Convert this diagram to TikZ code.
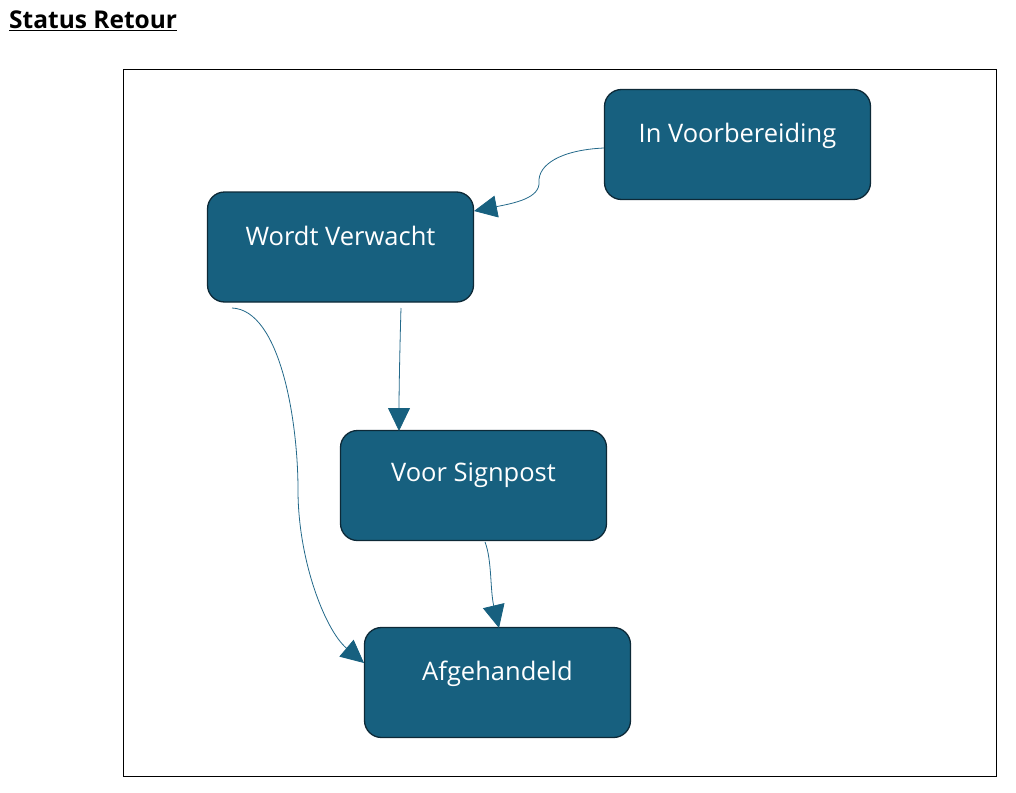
\documentclass[tikz,border=0pt]{standalone}
\usepackage{fontspec}
\setmainfont{Open Sans}
\usetikzlibrary{arrows.meta}
\definecolor{boxfill}{HTML}{17607F}
\definecolor{boxline}{HTML}{0D2937}
\definecolor{arrowcol}{HTML}{23698A}
\tikzset{
  statebox/.style={draw=boxline, line width=1.3pt, fill=boxfill, rounded corners=17pt,
    minimum width=266pt, minimum height=110pt, inner sep=0pt},
  statetext/.style={text=white, font=\fontsize{25.5}{30}\selectfont},
  flow/.style={draw=arrowcol, line width=0.8pt,
    -{Triangle[length=23pt,width=22pt,fill=boxfill,color=boxfill]}},
}
\begin{document}
\begin{tikzpicture}[x=1pt,y=-1pt]
\useasboundingbox (0,0) rectangle (1016,792);
\node[anchor=base west, inner sep=0pt, font=\fontsize{24.5}{28}\selectfont\bfseries] (title) at (9,29) {\underline{Status Retour}};
\draw[line width=0.8pt] (123,69) rectangle (996,776);
\node[statebox, label={[statetext, yshift=9pt]center:In Voorbereiding}] (iv) at (737.5,144.5) {};
\node[statebox, label={[statetext, yshift=11pt]center:Wordt Verwacht}] (wv) at (340.5,247) {};
\node[statebox, label={[statetext, yshift=10pt]center:Voor Signpost}] (vs) at (473.5,485.5) {};
\node[statebox, label={[statetext, yshift=9pt]center:Afgehandeld}] (af) at (497.5,682.5) {};
\coordinate (s1) at (604,148);
\coordinate (s2) at (401,308);
\coordinate (s3) at (232,308);
\coordinate (s4) at (485,542);
\draw[flow] (s1) .. controls (560,150) and (538,165) .. (539,182) .. controls (540,198) and (515,203) .. (474,211);
\draw[flow] (s2) .. controls (400,340) and (399,390) .. (399,431);
\draw[flow] (s3) .. controls (280,310) and (298,420) .. (298,490) .. controls (298,560) and (325,630) .. (364,663);
\draw[flow] (s4) .. controls (492,560) and (490,590) .. (499,628);
\end{tikzpicture}
\end{document}
